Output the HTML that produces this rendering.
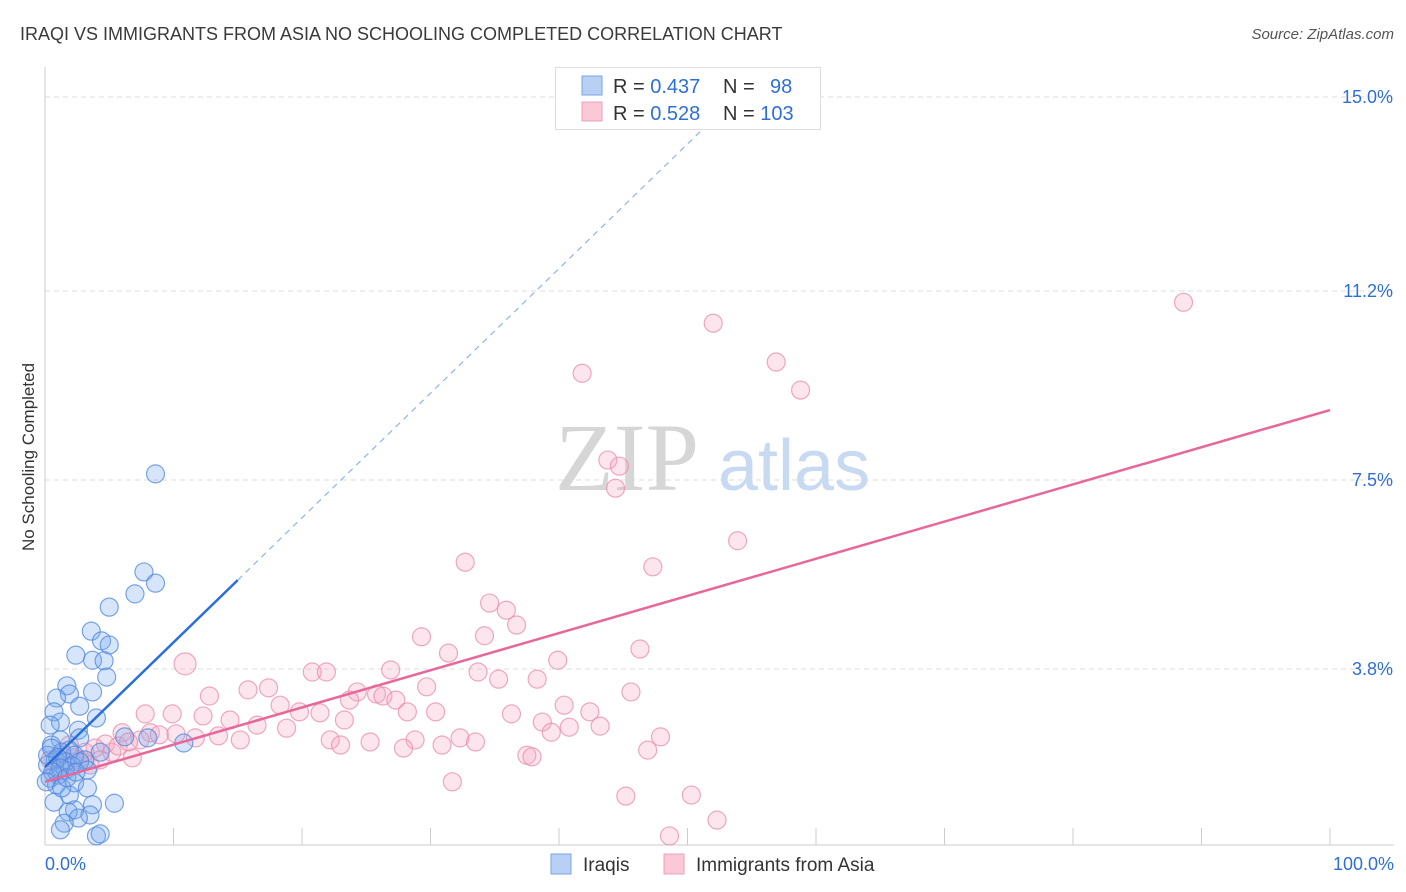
<!DOCTYPE html>
<html><head><meta charset="utf-8">
<style>
body{margin:0;background:#fff;font-family:"Liberation Sans",sans-serif;}
svg{display:block}
</style></head>
<body>
<svg id="chart" width="1406" height="892" xmlns="http://www.w3.org/2000/svg">
<text x="20" y="40" font-size="18" fill="#3a3a3a">IRAQI VS IMMIGRANTS FROM ASIA NO SCHOOLING COMPLETED CORRELATION CHART</text>
<text x="1394" y="39" font-size="15" fill="#555" text-anchor="end" font-style="italic">Source: ZipAtlas.com</text>
<text transform="translate(34,457) rotate(-90)" font-size="17" fill="#333" text-anchor="middle">No Schooling Completed</text>
<g id="grid"></g>
<text x="555" y="490" font-size="96" font-family="Liberation Serif,serif" fill="#d6d6d6">ZIP</text>
<text x="718" y="490" font-size="72" fill="#c8daf2">atlas</text>
<g id="marks"></g>
<g id="lines"></g>
<g>
<rect x="555.5" y="67.5" width="265" height="62" fill="#fff" stroke="#ddd"/>
<rect x="582" y="76" width="20" height="19" fill="#b8d0f4" stroke="#7aa4e6"/>
<rect x="582" y="102" width="20" height="19" fill="#fbc8d8" stroke="#eea0b9"/>
<text x="613" y="93" font-size="20" fill="#333">R = <tspan fill="#2e6fd6">0.437</tspan></text>
<text x="723" y="93" font-size="20" fill="#333">N = <tspan fill="#2e6fd6" x="770">98</tspan></text>
<text x="613" y="120" font-size="20" fill="#333">R = <tspan fill="#2e6fd6">0.528</tspan></text>
<text x="723" y="120" font-size="20" fill="#333">N = <tspan fill="#2e6fd6">103</tspan></text>
</g>
<g>
<rect x="551" y="854" width="20" height="20" fill="#b8d0f4" stroke="#7aa4e6"/>
<text x="583" y="871" font-size="19" fill="#333">Iraqis</text></g>
<g>
<rect x="664" y="854" width="20" height="20" fill="#fbc8d8" stroke="#eea0b9"/>
<text x="696" y="871" font-size="19" fill="#333">Immigrants from Asia</text></g>
</svg>
<script>
const yTicks=[15.0,11.2,7.5,3.8];
const yTickLabels=["15.0%","11.2%","7.5%","3.8%"];
const xTickLabels=["0.0%","100.0%"];
const blueX=[8.6,7.7,8.6,7.0,5.0,3.6,4.4,5.0,2.4,3.7,4.6,4.8,3.7,1.7,1.9,0.9,2.7,4.0,0.7,1.2,0.4,2.6,8.0,10.8,6.2,2.7,1.2,0.5,1.9,4.3,0.8,0.2,1.6,1.0,0.4,2.3,3.1,0.9,2.3,3.3,1.9,0.7,5.4,3.7,2.3,1.8,3.5,2.6,1.5,1.2,4.0,4.3,0.2,1.3,0.5,1.0,1.6,2.1,2.7,3.3,1.2,0.6,0.1,1.3,1.7,2.4];
const blueY=[7.62,5.70,5.48,5.27,5.01,4.54,4.35,4.27,4.07,3.97,3.96,3.64,3.35,3.47,3.31,3.23,3.07,2.84,2.96,2.76,2.70,2.60,2.45,2.35,2.47,2.45,2.41,2.31,2.21,2.17,2.02,1.92,1.82,1.72,1.66,2.11,2.02,1.53,1.57,1.47,1.33,1.19,1.17,1.14,1.04,1.00,0.94,0.88,0.78,0.65,0.53,0.57,2.11,2.17,2.25,2.06,1.98,1.90,1.98,1.82,1.86,1.78,1.59,1.47,1.67,1.78];
const pinkX=[88.6,52.0,56.9,41.8,58.8,43.8,44.7,44.4,53.9,32.7,47.3,34.6,35.9,36.7,29.3,34.2,31.4,46.3,39.9,10.9,20.8,21.9,26.9,33.7,35.3,38.3,29.7,12.8,15.8,17.4,24.3,25.8,26.3,27.3,23.7,45.6,40.4,18.3,19.8,21.4,28.2,30.4,36.3,42.4,7.8,9.9,12.3,14.4,16.5,18.8,23.3,38.7,40.8,43.2,39.4,8.2,6.0,8.9,10.2,11.7,13.5,15.2,22.2,23.0,25.3,28.8,30.9,32.3,33.5,27.9,47.9,46.9,37.5,37.9,31.7,45.2,50.3,52.3,48.6,4.7,3.9,3.1,6.8,5.2,1.9,2.7,1.2,1.6,0.8,3.5,4.3,2.3,0.4,5.7,7.4,6.5];
const pinkY=[10.98,10.57,9.81,9.59,9.26,7.89,7.77,7.34,6.31,5.89,5.80,5.09,4.95,4.66,4.43,4.45,4.11,4.19,3.97,3.90,3.74,3.74,3.78,3.74,3.60,3.60,3.45,3.27,3.39,3.43,3.35,3.31,3.27,3.19,3.19,3.35,3.09,3.09,2.96,2.94,2.96,2.96,2.92,2.96,2.92,2.92,2.88,2.80,2.70,2.64,2.80,2.76,2.66,2.68,2.56,2.55,2.55,2.51,2.53,2.45,2.49,2.41,2.41,2.31,2.37,2.41,2.31,2.45,2.37,2.25,2.47,2.21,2.11,2.08,1.59,1.31,1.33,0.84,0.53,2.33,2.25,2.17,2.06,2.17,2.31,2.02,2.11,1.92,1.82,1.92,2.02,2.06,2.02,2.29,2.41,2.37];
const blueTrend=[1.88,0.244];
const pinkTrend=[1.59,0.0728];
const NS="http://www.w3.org/2000/svg";
const X0=45,X1=1330,YB=863,YT=97;
const sx=v=>X0+(X1-X0)*v/100;
const sy=v=>YB-(YB-YT)*v/15;
function el(t,a,p){const e=document.createElementNS(NS,t);for(const k in a)e.setAttribute(k,a[k]);p.appendChild(e);return e;}
const grid=document.getElementById('grid');
yTicks.forEach((t,i)=>{
 const l=el('line',{x1:X0,x2:1394,y1:sy(t),y2:sy(t),stroke:'#ddd','stroke-dasharray':'5,4'},grid);
 
 
 const tx=el('text',{x:1393,y:sy(t)+6,'font-size':18,fill:'#2e6fd6','text-anchor':'end'},grid);
 tx.textContent=yTickLabels[i];
 
 
});
const ax=el('line',{x1:X0,x2:1394,y1:845,y2:845,stroke:'#ccc'},grid);


const ay=el('line',{x1:X0,x2:X0,y1:67,y2:845,stroke:'#ccc'},grid);


for(let i=1;i<=10;i++){const t=el('line',{x1:sx(i*10),x2:sx(i*10),y1:828,y2:845,stroke:'#ccc'},grid);
 
 }
[[0,'start',45],[100,'end',1394]].forEach((d,i)=>{const t=el('text',{x:d[2],y:870,'font-size':18,fill:'#2e6fd6','text-anchor':d[1]},grid);t.textContent=xTickLabels[i];
 
 });
const marks=document.getElementById('marks');
pinkX.forEach((x,i)=>{const c=el('circle',{cx:sx(x),cy:sy(pinkY[i]),r:i==19?11:9,fill:'rgba(245,170,196,0.3)',stroke:'rgba(232,140,172,0.75)','stroke-width':1.2},marks);
 
 });
blueX.forEach((x,i)=>{const c=el('circle',{cx:sx(x),cy:sy(blueY[i]),r:9,fill:'rgba(120,168,238,0.3)',stroke:'rgba(80,135,220,0.75)','stroke-width':1.2},marks);
 
 });
const lines=document.getElementById('lines');
const bs=el('line',{x1:sx(0),y1:sy(blueTrend[0]),x2:sx(15),y2:sy(blueTrend[0]+blueTrend[1]*15),stroke:'#2a6fd8','stroke-width':2.5},lines);


const be=(14.45-blueTrend[0])/blueTrend[1];
const bd=el('line',{x1:sx(15),y1:sy(blueTrend[0]+blueTrend[1]*15),x2:sx(be),y2:sy(14.45),stroke:'#8fb3e8','stroke-width':1.2,'stroke-dasharray':'6,5'},lines);


const pl=el('line',{x1:sx(0),y1:sy(pinkTrend[0]),x2:sx(100),y2:sy(pinkTrend[0]+pinkTrend[1]*100),stroke:'#e8679a','stroke-width':2.5},lines);


</script>
</body></html>
